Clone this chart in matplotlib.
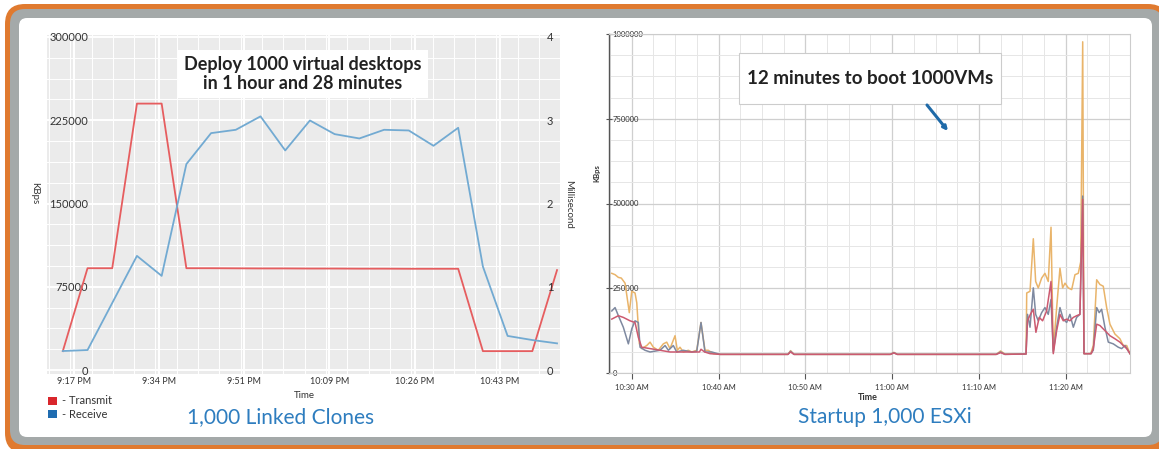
import matplotlib
matplotlib.use('Agg')
import matplotlib.pyplot as plt
from matplotlib.patches import FancyBboxPatch, Rectangle
from matplotlib.ticker import MultipleLocator, FixedLocator, FuncFormatter
import numpy as np

plt.rcParams['font.family'] = ['Lato', 'DejaVu Sans']

W, H = 1159, 449

# ---- left chart: 1,000 linked clones (5 minute samples) ----
lc_times = ["21:15", "21:20", "21:25", "21:30", "21:35", "21:40", "21:45",
            "21:50", "21:55", "22:00", "22:05", "22:10", "22:15", "22:20",
            "22:25", "22:30", "22:35", "22:40", "22:45", "22:50", "22:55"]
lc_transmit = [17000, 91700, 91700, 240000, 240000, 91700, 91700, 91600,
               91500, 91500, 91400, 91400, 91300, 91300, 91200, 91200,
               91200, 17000, 17000, 17000, 90000]
lc_receive = [17100, 18000, 60400, 102800, 84800, 185500, 213400, 216400,
              228500, 197800, 224800, 212500, 208600, 216400, 215800, 202000,
              218200, 93200, 30700, 27000, 24000]
lc_tick_labels = ["9:17 PM", "9:34 PM", "9:51 PM", "10:09 PM", "10:26 PM", "10:43 PM"]
lc_tick_minutes = [1277.2, 1294.45, 1311.7, 1328.95, 1346.2, 1363.45]

# ---- right chart: startup 1,000 ESXi (minutes after 10:00 AM) ----
orange_t = [27.70, 28.08, 28.46, 28.8, 29.23, 29.72, 30.0, 30.38, 30.58, 30.88,
            31.15, 31.73, 32.11, 32.49, 33.06, 33.64, 34.03, 34.41, 34.99, 35.25,
            35.56, 35.94, 36.52, 36.91, 37.49, 37.98, 38.44, 38.82, 39.40, 40.17,
            48.0, 48.3, 48.7, 59.8, 60.2, 60.6, 72.0, 72.5, 73.0, 75.43,
            75.51, 75.89, 76.27, 76.54, 76.84, 77.23, 77.61, 77.99, 78.31, 78.57,
            78.96, 79.34, 79.65, 79.92, 80.30, 80.69, 81.07, 81.45, 81.73, 81.96,
            82.11, 82.88, 83.18, 83.57, 83.95, 84.33, 84.72, 85.10, 85.67, 86.25,
            86.64, 87.03, 87.41]
orange_v = [294000, 290000, 282000, 280000, 265000, 178000, 241000, 236000, 207000, 86000,
            72000, 81000, 91000, 76000, 67000, 86000, 91000, 72000, 110000, 67000,
            76000, 62000, 67000, 62000, 67000, 149000, 67000, 67000, 57000, 55000,
            55000, 66000, 55000, 55000, 61000, 55000, 55000, 65000, 56000, 56000,
            236000, 241000, 396000, 270000, 251000, 280000, 294000, 270000, 430000, 67000,
            193000, 309000, 251000, 265000, 251000, 246000, 290000, 294000, 328000, 977000,
            57000, 57000, 81000, 275000, 261000, 256000, 193000, 144000, 115000, 101000,
            81000, 81000, 57000]

gray_t = [27.70, 28.08, 28.46, 29.03, 29.61, 30.0, 30.38, 30.76, 30.96, 31.53,
          32.11, 33.26, 33.84, 34.22, 34.79, 35.18, 35.94, 36.91, 37.49, 37.98,
          38.44, 39.22, 40.17, 48.0, 48.3, 48.7, 59.8, 60.2, 60.6, 72.0,
          72.5, 73.0, 75.43, 75.6, 75.89, 76.27, 76.54, 76.84, 77.23, 77.61,
          77.99, 78.31, 78.57, 78.96, 79.34, 79.72, 80.11, 80.49, 80.88, 81.26,
          81.64, 81.96, 82.11, 82.88, 83.18, 83.57, 83.86, 84.14, 84.52, 84.91,
          85.48, 86.06, 86.45, 86.83, 87.41]
gray_v = [183000, 193000, 169000, 135000, 86000, 130000, 154000, 149000, 76000, 67000,
          62000, 67000, 81000, 67000, 81000, 62000, 67000, 62000, 64000, 149000,
          62000, 62000, 55000, 55000, 64000, 55000, 55000, 60000, 55000, 55000,
          62000, 55000, 56000, 173000, 135000, 251000, 173000, 154000, 178000, 193000,
          173000, 217000, 62000, 135000, 193000, 159000, 149000, 173000, 135000, 164000,
          173000, 522000, 57000, 57000, 67000, 193000, 178000, 188000, 135000, 91000,
          86000, 76000, 72000, 81000, 57000]

red_t = [27.70, 28.46, 29.03, 29.80, 30.38, 30.76, 31.15, 32.11, 33.26, 34.41,
         35.56, 36.72, 37.8, 37.98, 38.4, 39.02, 40.17, 48.0, 48.3, 48.7,
         59.8, 60.2, 60.6, 72.0, 72.5, 73.0, 75.43, 75.6, 75.93, 76.27,
         76.57, 76.95, 77.34, 77.80, 78.31, 78.57, 78.96, 79.34, 79.72, 80.11,
         80.49, 80.88, 81.26, 81.64, 81.96, 82.11, 82.95, 83.18, 83.57, 83.95,
         84.33, 84.72, 85.10, 85.67, 86.25, 86.64, 87.03, 87.41]
red_v = [159000, 169000, 164000, 154000, 149000, 105000, 76000, 72000, 67000, 62000,
         62000, 62000, 62000, 70000, 62000, 57000, 55000, 55000, 62000, 55000,
         55000, 59000, 55000, 55000, 60000, 55000, 56000, 154000, 173000, 188000,
         120000, 164000, 154000, 183000, 270000, 57000, 125000, 173000, 154000, 159000,
         154000, 164000, 169000, 173000, 512000, 57000, 57000, 72000, 144000, 140000,
         130000, 120000, 110000, 101000, 91000, 81000, 72000, 57000]

esxi_tick_labels = ["10:30 AM", "10:40 AM", "10:50 AM", "11:00 AM", "11:10 AM", "11:20 AM"]
esxi_tick_minutes = [30, 40, 50, 60, 70, 80]


def box(x0, y0, x1, y1):
    # pixel box (top-left origin) -> figure fraction rect
    return [x0 / W, 1 - y1 / H, (x1 - x0) / W, (y1 - y0) / H]


fig = plt.figure(figsize=(W / 100, H / 100), dpi=100, facecolor='white')

# background axes in pixel units for the slide frame and overlays
bg = fig.add_axes([0, 0, 1, 1], zorder=-10)
bg.set_xlim(0, W)
bg.set_ylim(H, 0)
bg.axis('off')

frame = [((5, 4, 1168, 453), 20, '#e07a2f'),
         ((10, 9, 1163, 445), 15, '#a4a9a9'),
         ((19, 18, 1152, 437), 8, 'white')]
for (x0, y0, x1, y1), r, col in frame:
    bg.add_patch(FancyBboxPatch((x0, y0), x1 - x0, y1 - y0,
                                boxstyle="round,pad=0,rounding_size=%d" % r,
                                facecolor=col, edgecolor='none'))

# overlay axes (drawn above the charts) for boxes and arrow
ov = fig.add_axes([0, 0, 1, 1], zorder=10)
ov.set_xlim(0, W)
ov.set_ylim(H, 0)
ov.axis('off')

# ---- left chart ----
def to_min(s):
    h, m = s.split(':')
    return int(h) * 60 + int(m)

lc_x = [to_min(s) for s in lc_times]

ax1 = fig.add_axes(box(47, 35, 560, 374))
ax1.set_facecolor('#ebebeb')
ax1.plot(lc_x, lc_transmit, color='#e65d5f', lw=1.3, zorder=3)
ax1.plot(lc_x, lc_receive, color='#72aad2', lw=1.3, zorder=3)
ax1.set_xlim(1271.8, 1375.6)
ax1.set_ylim(-3600, 301800)
ax1.xaxis.set_major_locator(FixedLocator(lc_tick_minutes))
ax1.set_xticklabels(lc_tick_labels)
ax1.xaxis.set_minor_locator(MultipleLocator(17.25 / 4))
ax1.set_yticks([0, 75000, 150000, 225000, 300000])
ax1.yaxis.set_minor_locator(MultipleLocator(18750))
ax1.grid(which='major', color='white', lw=1.4)
ax1.grid(which='minor', color='white', lw=0.7)
ax1.set_axisbelow(True)
for s in ax1.spines.values():
    s.set_visible(False)
ax1.tick_params(axis='x', which='both', length=0, pad=2, labelsize=6.5, colors='#333333')
ax1.tick_params(axis='y', which='both', length=0, pad=-29.5, labelsize=8, colors='#333333')

ax2 = ax1.twinx()
ax2.set_ylim(-3600 / 75000, 301800 / 75000)
ax2.set_yticks([0, 1, 2, 3, 4])
for s in ax2.spines.values():
    s.set_visible(False)
ax2.tick_params(axis='y', length=0, pad=-9.4, labelsize=8, colors='#333333')

fig.text(35 / W, 1 - 193 / H, 'KBps', rotation=270, ha='center', va='center',
         fontsize=7, color='#333333')
fig.text(569 / W, 1 - 204 / H, 'Millisecond', rotation=270, ha='center', va='center',
         fontsize=7, color='#333333')
fig.text(304 / W, 1 - 396 / H, 'Time', ha='center', va='center', fontsize=7,
         color='#333333')

# legend
for yc, col, lab in [(401, '#d9262c', '- Transmit'), (414, '#1f6cb0', '- Receive')]:
    ov.add_patch(Rectangle((48, yc - 4), 9, 8, facecolor=col, edgecolor='none'))
    ov.text(62, yc, lab, ha='left', va='center', fontsize=8, color='#333333')

# annotation box
ov.add_patch(Rectangle((178, 50), 250, 48, facecolor='white', edgecolor='none'))
ov.text(303, 74, 'Deploy 1000 virtual desktops\nin 1 hour and 28 minutes',
        ha='center', va='center', fontsize=13, fontweight='bold', color='#222222',
        linespacing=1.2)

ov.text(281, 417, '1,000 Linked Clones', ha='center', va='center',
        fontsize=15, color='#2e7dbf')

# ---- right chart ----
ax3 = fig.add_axes(box(609, 34, 1130, 373))
ax3.set_facecolor('white')
ax3.plot(orange_t, orange_v, color='#e9b46a', lw=1.1, zorder=3)
ax3.plot(gray_t, gray_v, color='#7e89a0', lw=1.1, zorder=3)
ax3.plot(red_t, red_v, color='#cc5a70', lw=1.1, zorder=3)
ax3.set_xlim(27.38, 87.41)
ax3.set_ylim(0, 1000000)
ax3.xaxis.set_major_locator(FixedLocator(esxi_tick_minutes))
ax3.set_xticklabels(esxi_tick_labels)
ax3.xaxis.set_minor_locator(MultipleLocator(2.5))
ax3.set_yticks([0, 250000, 500000, 750000, 1000000])
ax3.yaxis.set_major_formatter(FuncFormatter(lambda v, p: '%d' % v))
ax3.yaxis.set_minor_locator(MultipleLocator(62500))
ax3.grid(which='major', color='#cfcfcf', lw=0.9)
ax3.grid(which='minor', color='#e6e6e6', lw=0.7)
ax3.set_axisbelow(True)
for k in ['top', 'right', 'bottom']:
    ax3.spines[k].set_color('#cccccc')
    ax3.spines[k].set_linewidth(0.8)
ax3.spines['left'].set_color('#555555')
ax3.spines['left'].set_linewidth(1.0)
ax3.tick_params(axis='x', which='major', direction='out', length=4, width=0.8,
                color='#555555', pad=4, labelsize=5.5, labelcolor='#333333')
ax3.tick_params(axis='x', which='minor', length=0)
ax3.tick_params(axis='y', which='major', direction='inout', length=5, width=0.8,
                color='#555555', pad=-5, labelsize=5.5, labelcolor='#333333')
ax3.tick_params(axis='y', which='minor', length=0)
for lab in ax3.get_yticklabels():
    lab.set_horizontalalignment('left')

fig.text(597 / W, 1 - 173 / H, 'KBps', rotation=90, ha='center', va='center',
         fontsize=5.5, fontweight='bold', color='#333333')
fig.text(868 / W, 1 - 398 / H, 'Time', ha='center', va='center', fontsize=6.5,
         fontweight='bold', color='#333333')

ov.add_patch(Rectangle((739, 53), 262, 51, facecolor='white', edgecolor='#cccccc', lw=0.8))
ov.text(870, 79, '12 minutes to boot 1000VMs', ha='center', va='center',
        fontsize=13.5, fontweight='bold', color='#222222')
ov.annotate('', xy=(948, 131), xytext=(927, 105),
            arrowprops=dict(arrowstyle='-|>', color='#1f6aa8', lw=2.2,
                            mutation_scale=6, shrinkA=0, shrinkB=0))

ov.text(885, 417, 'Startup 1,000 ESXi', ha='center', va='center',
        fontsize=15, color='#2e7dbf')

plt.savefig('out.png', dpi=100, facecolor='white')
